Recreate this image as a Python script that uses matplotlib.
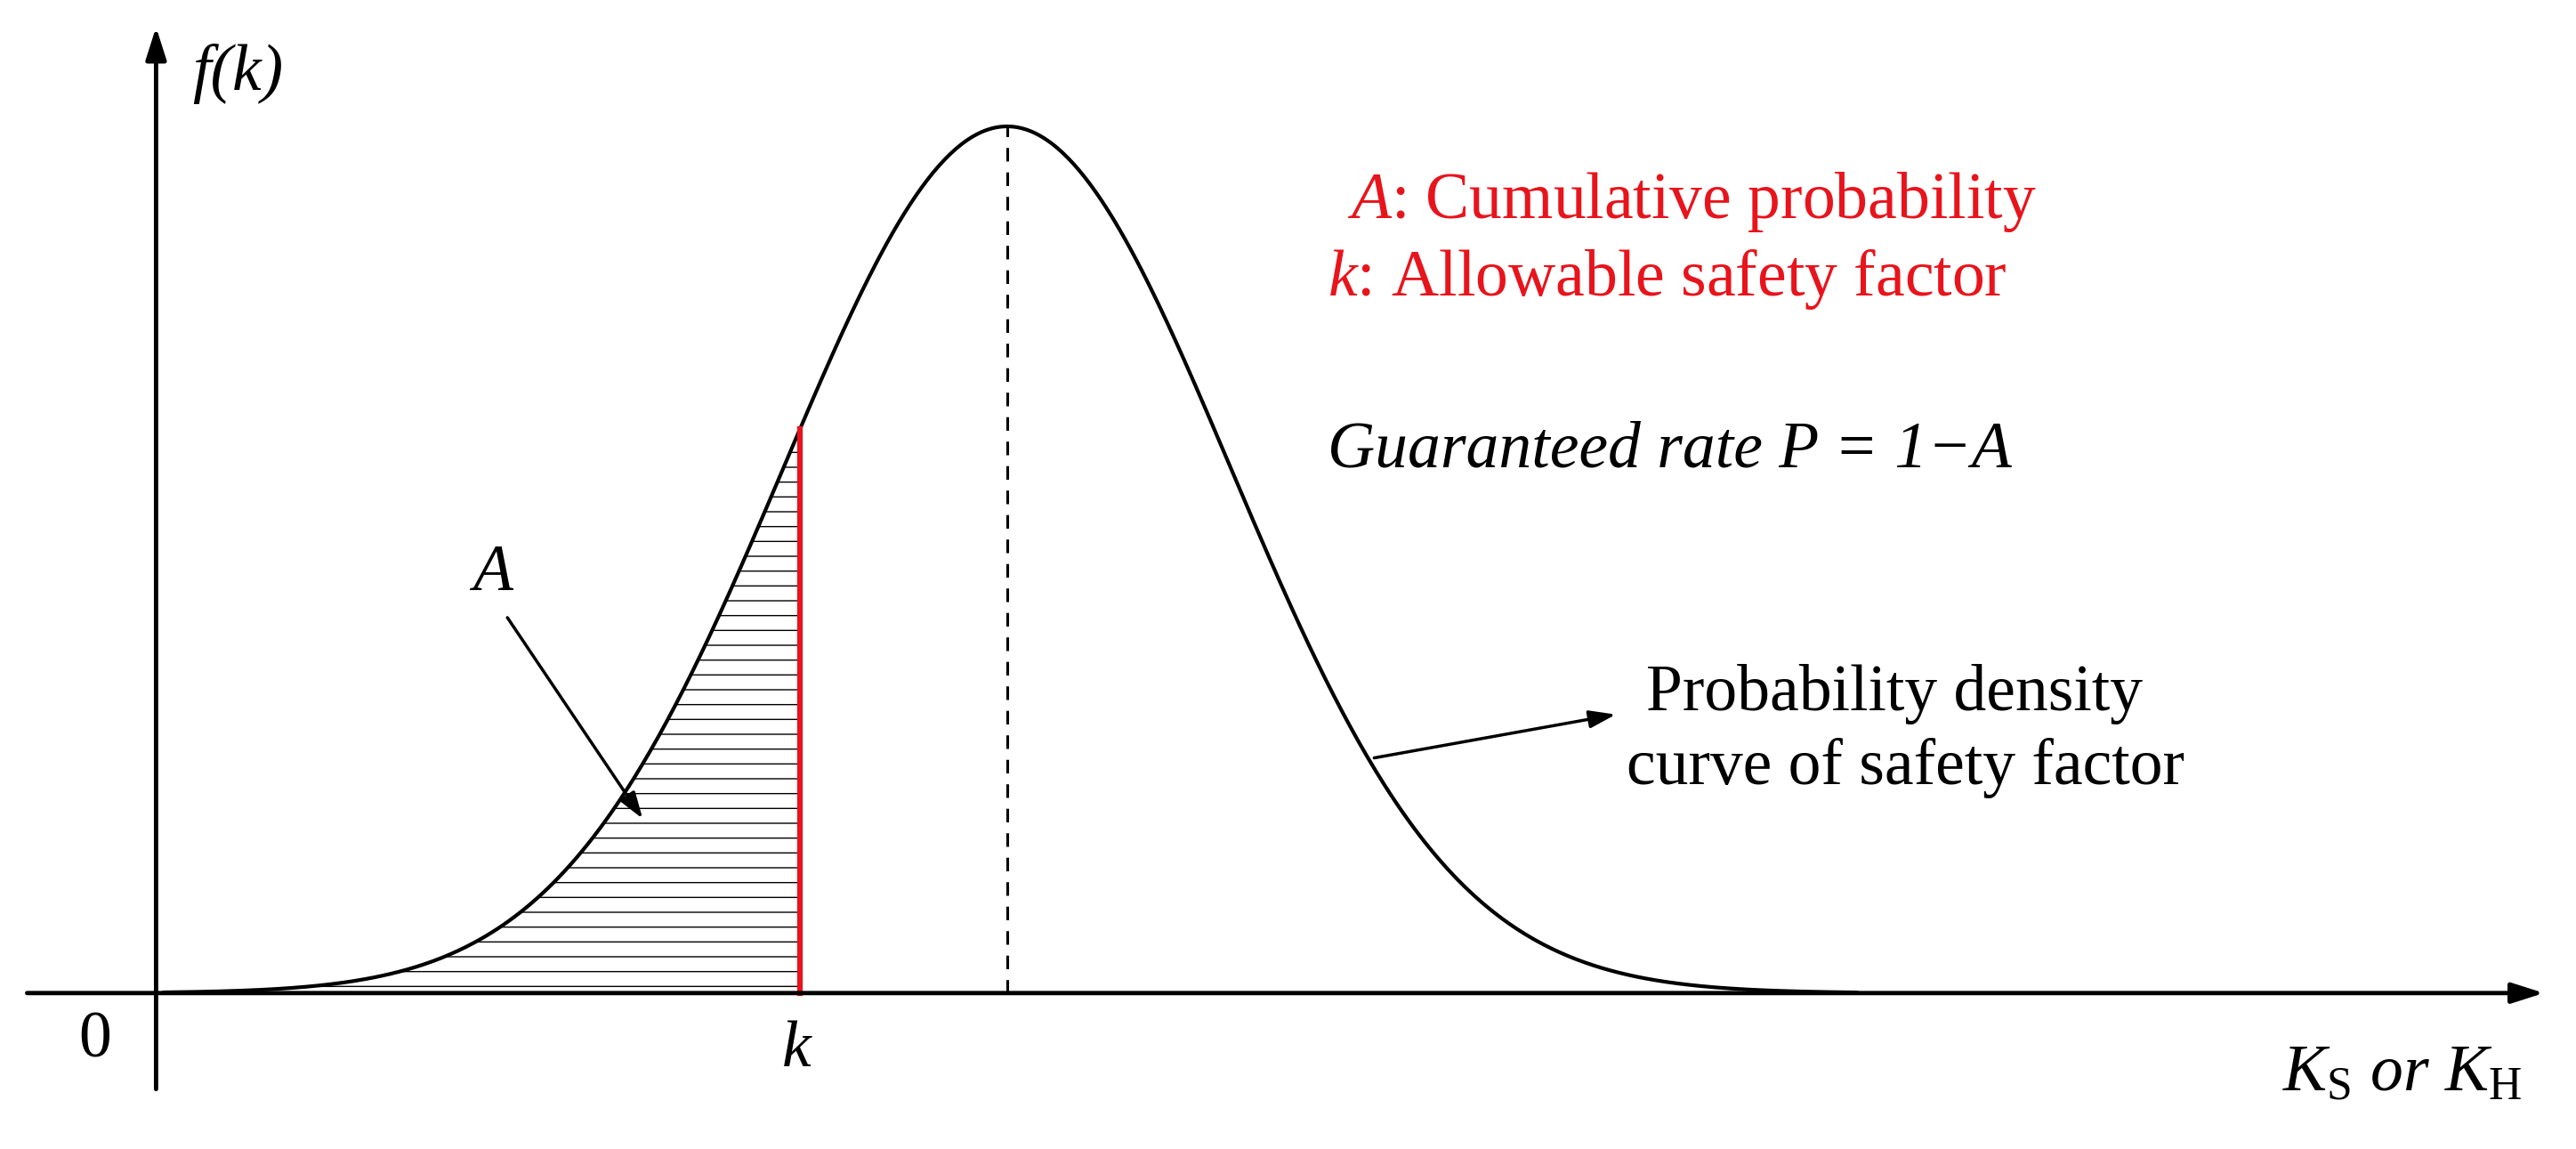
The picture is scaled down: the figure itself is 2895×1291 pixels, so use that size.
"""Schematic: probability density of safety factor with cumulative area A."""
import numpy as np
import matplotlib.pyplot as plt

plt.rcParams['font.family'] = ['Liberation Serif', 'DejaVu Serif']
plt.rcParams['mathtext.fontset'] = 'custom'
plt.rcParams['mathtext.rm'] = 'Liberation Serif'
plt.rcParams['mathtext.it'] = 'Liberation Serif:italic'
plt.rcParams['hatch.linewidth'] = 1.0

# curve parameters (canvas units, y up)
mu = 613.0          # peak position
sigma = 136.0       # spread
peak = 528.0        # peak height above the axis
k_pos = 487.0       # allowable safety factor
base = 95.0         # height of the x axis on the canvas
x0, x1 = 100.0, 1130.0

xs = np.linspace(x0, x1, 600)
ys = base + peak * np.exp(-(xs - mu) ** 2 / (2 * sigma ** 2))
yk = base + peak * np.exp(-(k_pos - mu) ** 2 / (2 * sigma ** 2))

fig = plt.figure(figsize=(28.95, 12.91), dpi=100)
ax = fig.add_axes([0, 0, 1, 1])
ax.set_xlim(0, 1568); ax.set_ylim(0, 700); ax.axis('off')

# axes with arrows
arr = dict(arrowstyle='-|>,head_length=2.2,head_width=0.7', color='black', lw=3.5)
ax.annotate('', xy=(1550, base), xytext=(15, base), arrowprops=arr)
ax.annotate('', xy=(95, 685), xytext=(95, 35), arrowprops=arr)

# hatched cumulative area
m = xs <= k_pos
ax.fill_between(xs[m], base, ys[m], facecolor='none', edgecolor='black',
                hatch='-', linewidth=0)
ax.plot(xs, ys, color='black', lw=3)
ax.plot([k_pos, k_pos], [base, yk], color='#e8141c', lw=4.5)
ax.plot([mu, mu], [base, base + peak], color='black', lw=2.2, ls=(0, (5, 4)))

fs = 53
ax.text(820, 577, r'$\mathit{A}$: Cumulative probability', color='#e8141c', fontsize=fs, va='center')
ax.text(808, 530, r'$\mathit{k}$: Allowable safety factor', color='#e8141c', fontsize=fs, va='center')
ax.text(808, 425, 'Guaranteed rate P = 1\u2212A', style='italic', fontsize=fs, va='center')
ax.text(1153, 277, 'Probability density', fontsize=fs, ha='center', va='center')
ax.text(1160, 232, 'curve of safety factor', fontsize=fs, ha='center', va='center')
ax.text(300, 350, 'A', style='italic', fontsize=fs, ha='center', va='center')
ax.text(145, 655, 'f(k)', style='italic', fontsize=fs, ha='center', va='center')
ax.text(58, 66, '0', fontsize=fs, ha='center', va='center')
ax.text(485, 60, 'k', style='italic', fontsize=fs, ha='center', va='center')
ax.text(1462, 45, r'$\mathit{K}_\mathrm{S}$ $\mathit{or}$ $\mathit{K}_\mathrm{H}$', fontsize=fs,
        ha='center', va='center')

parr = dict(arrowstyle='-|>,head_length=1.8,head_width=0.6', color='black', lw=2.5)
ax.annotate('', xy=(985, 265), xytext=(835, 238), arrowprops=parr)
ax.annotate('', xy=(392, 200), xytext=(308, 325), arrowprops=parr)

fig.savefig('out.png', dpi=100)
